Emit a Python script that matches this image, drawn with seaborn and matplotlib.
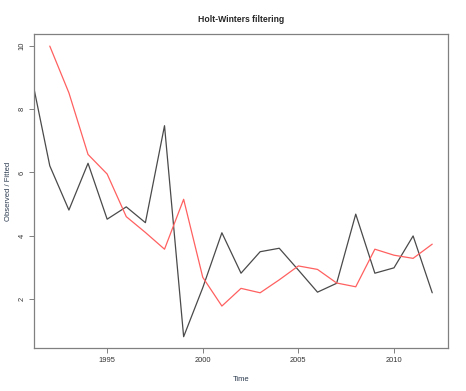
import numpy as np
import pandas as pd
import matplotlib
matplotlib.use("Agg")
import matplotlib.pyplot as plt
import seaborn as sns

# Observed series and Holt-Winters fitted values
obs_years = [1991, 1992, 1993, 1994, 1995, 1996, 1997, 1998, 1999, 2000, 2001,
             2002, 2003, 2004, 2005, 2006, 2007, 2008, 2009, 2010, 2011, 2012]
observed = [9.17, 6.21, 4.81, 6.29, 4.52, 4.91, 4.41, 7.48, 0.80, 2.35, 4.09,
            2.81, 3.49, 3.60, 2.91, 2.21, 2.49, 4.68, 2.81, 2.98, 3.99, 2.19]

fit_years = [1992, 1993, 1994, 1995, 1996, 1997, 1998, 1999, 2000, 2001, 2002,
             2003, 2004, 2005, 2006, 2007, 2008, 2009, 2010, 2011, 2012]
fitted = [10.0, 8.52, 6.57, 5.95, 4.60, 4.10, 3.57, 5.15, 2.68, 1.77, 2.33,
          2.19, 2.60, 3.04, 2.93, 2.50, 2.38, 3.57, 3.38, 3.28, 3.73]

x_ticks = [1995, 2000, 2005, 2010]
y_ticks = [2, 4, 6, 8, 10]

sns.set_style("ticks")
plt.rcParams['font.family'] = ['Liberation Sans', 'DejaVu Sans']

df_obs = pd.DataFrame({'Time': obs_years, 'value': observed})
df_fit = pd.DataFrame({'Time': fit_years, 'value': fitted})

fig = plt.figure(figsize=(4.66, 3.91), dpi=100)
ax = fig.add_axes([0.074, 0.109, 0.888, 0.803])

sns.lineplot(data=df_obs, x='Time', y='value', color='#4a4a4a', linewidth=0.9, ax=ax)
sns.lineplot(data=df_fit, x='Time', y='value', color='#ff6060', linewidth=0.9, ax=ax)

ax.set_xlim(1991.2, 2012.84)
ax.set_ylim(0.43, 10.37)
ax.set_xticks(x_ticks)
ax.set_yticks(y_ticks)
ax.set_yticklabels([str(v) for v in y_ticks], rotation=90, va='center')

for s in ax.spines.values():
    s.set_color('#808080')
    s.set_linewidth(0.9)
ax.tick_params(axis='both', length=3.5, width=0.7, color='#808080',
               labelsize=5.4, labelcolor='#333333', pad=3)

ax.set_xlabel('Time', fontsize=5.5, color='#2b3a4f', labelpad=8)
ax.set_ylabel('Observed / Fitted', fontsize=5.5, color='#2b3a4f', labelpad=5)
ax.set_title('Holt-Winters filtering', fontsize=6.2, fontweight='bold', pad=9)

fig.savefig('out.png', dpi=100)
